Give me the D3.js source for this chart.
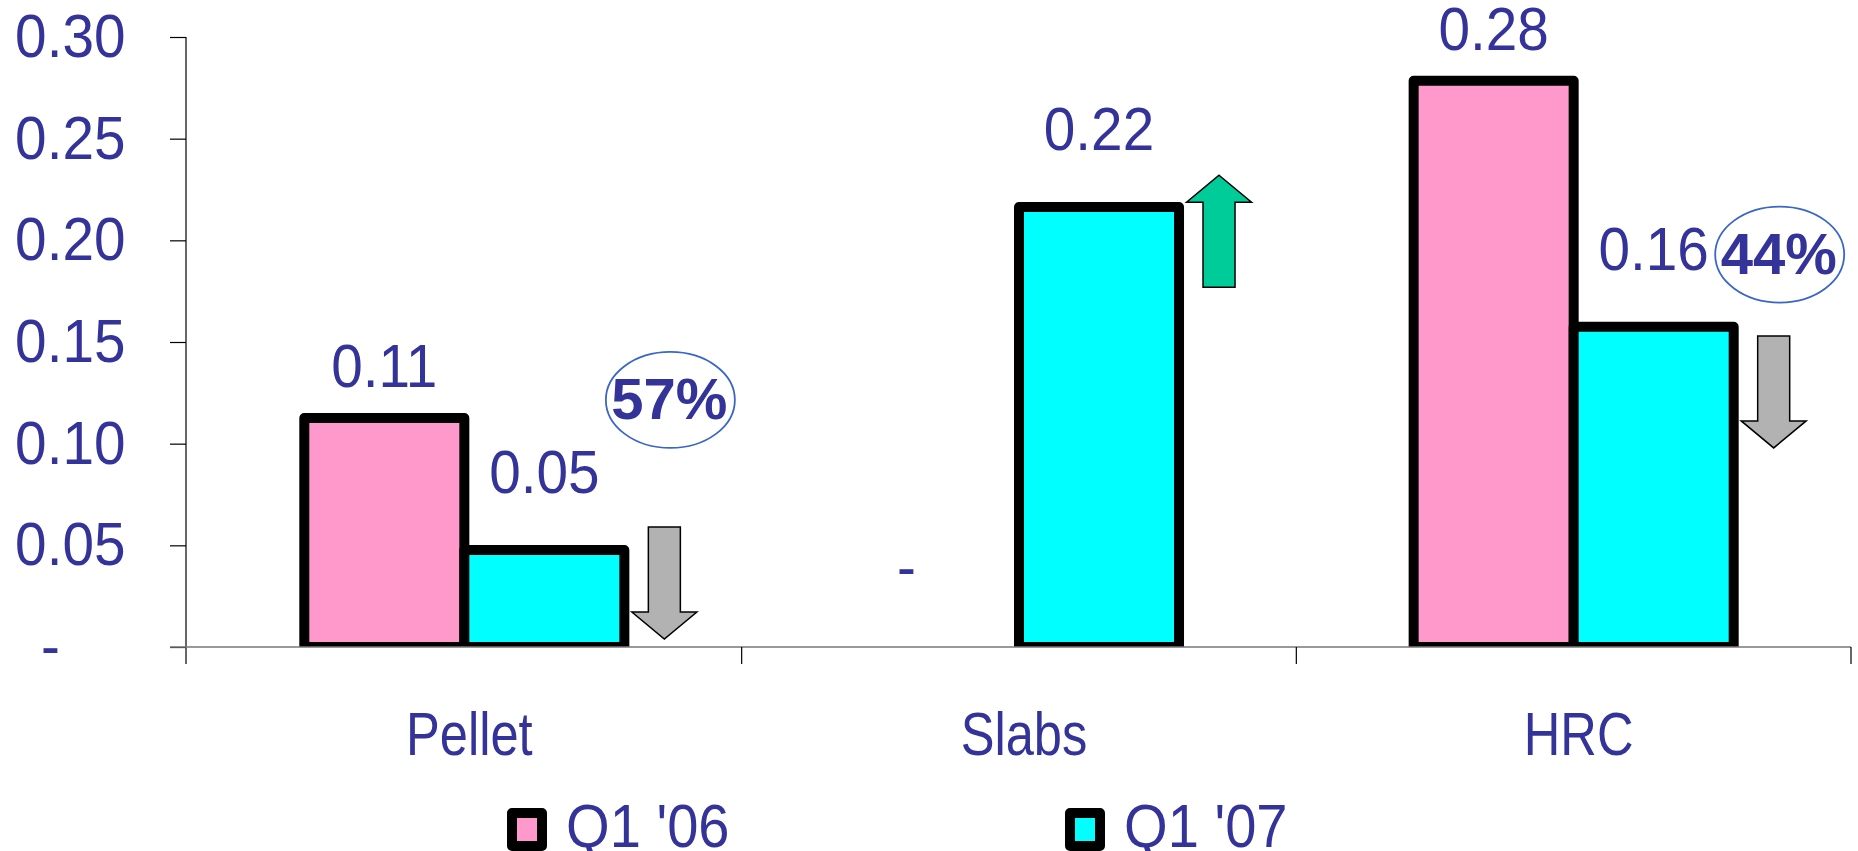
<!DOCTYPE html>
<html>
<head>
<meta charset="utf-8">
<script src="https://cdn.jsdelivr.net/npm/d3@7"></script>
<style>
  body { margin: 0; background: #fff; }
  svg { display: block; }
</style>
</head>
<body>
<svg id="chart"></svg>
<script>
// Data
const categories = ["Pellet", "Slabs", "HRC"];
const seriesNames = ["Q1 '06", "Q1 '07"];
const q106 = [0.1126, 0, 0.2785];
const q107 = [0.0477, 0.2164, 0.1575];
const yTicks = [0, 0.05, 0.1, 0.15, 0.2, 0.25, 0.3];
const changeLabels = ["57%", null, "44%"];
const changeDir = ["down", "up", "down"];
const arrowTop = [0.059, 0.232, 0.153]; // value where the arrow starts
const badgeY = [0.1215, null, 0.193]; // value at centre of the % ellipse

// Layout
const width = 1858;
const height = 851;
const x0Left = 187;
const x0Right = 1851;
const yZero = 647;
const yTop = 37;
const textColor = "#333399";
const fontSize = 61;
const colors = ["#FF99CC", "#00FFFF"];
const labelGap = [31, 57];

const svg = d3.select("#chart").attr("width", width).attr("height", height);
svg.append("rect").attr("width", width).attr("height", height).attr("fill", "#fff");

const font = "'Liberation Sans', Arial, sans-serif";

// the source text is a bit narrower than Liberation Sans
function squeeze(sel, s) {
  sel.each(function () {
    const x = +this.getAttribute("x") || 0;
    d3.select(this).attr("transform", `translate(${x * (1 - s)},0) scale(${s},1)`);
  });
}

const x = d3.scaleBand()
  .domain(categories)
  .range([x0Left, x0Right])
  .paddingInner(0.423)
  .paddingOuter(0.2115);

const xSub = d3.scaleBand()
  .domain(seriesNames)
  .range([0, x.bandwidth()]);

const y = d3.scaleLinear().domain([0, 0.3]).range([yZero, yTop]);

// Y axis
const yAxis = svg.append("g")
  .attr("transform", `translate(${x0Left - 1},0)`)
  .call(d3.axisLeft(y)
    .tickValues(yTicks)
    .tickSize(16)
    .tickPadding(44.5)
    .tickFormat(d => d === 0 ? "-" : d3.format(".2f")(d)));
yAxis.select(".domain").remove();
yAxis.selectAll(".tick line").attr("stroke", "#000").attr("stroke-width", 1.2);
yAxis.selectAll(".tick text")
  .attr("fill", textColor)
  .style("font-family", font)
  .style("font-size", fontSize + "px")
  .attr("x", d => d === 0 ? -126 : -60.5)
  .call(squeeze, 0.93);

svg.append("line")
  .attr("x1", x0Left - 1).attr("x2", x0Left - 1)
  .attr("y1", yTop).attr("y2", yZero + 17)
  .attr("stroke", "#000").attr("stroke-width", 1.2);

// Bars
svg.append("clipPath").attr("id", "plotClip")
  .append("rect").attr("x", 0).attr("y", 0).attr("width", width).attr("height", yZero);

const rows = categories.map((c, i) => ({ cat: c, i, vals: [q106[i], q107[i]] }));

const groups = svg.append("g").attr("clip-path", "url(#plotClip)")
  .selectAll("g")
  .data(rows)
  .join("g")
  .attr("transform", d => `translate(${x(d.cat)},0)`);

groups.selectAll("rect")
  .data(d => d.vals.map((v, s) => ({ v, s })).filter(e => e.v > 0))
  .join("rect")
  .attr("x", e => xSub(seriesNames[e.s]))
  .attr("y", e => y(e.v))
  .attr("width", xSub.bandwidth())
  .attr("height", e => y(0) - y(e.v))
  .attr("fill", e => colors[e.s])
  .attr("stroke", "#000")
  .attr("stroke-width", 10)
  .attr("stroke-linejoin", "round");

// X axis
svg.append("line")
  .attr("x1", x0Left - 17).attr("x2", x0Right)
  .attr("y1", yZero).attr("y2", yZero)
  .attr("stroke", "#777").attr("stroke-width", 1.5);

const step = x.step();
const boundaries = d3.range(categories.length + 1).map(k => x0Left + k * step);
svg.selectAll(".xtick")
  .data(boundaries.slice(1))
  .join("line")
  .attr("x1", d => d).attr("x2", d => d)
  .attr("y1", yZero).attr("y2", yZero + 17)
  .attr("stroke", "#000").attr("stroke-width", 1.2);

svg.selectAll(".cat")
  .data(categories)
  .join("text")
  .attr("class", "cat")
  .attr("x", d => x(d) + x.bandwidth() / 2 + 5)
  .attr("y", 755)
  .attr("text-anchor", "middle")
  .attr("fill", textColor)
  .style("font-family", font)
  .style("font-size", fontSize + "px")
  .text(d => d)
  .call(squeeze, 0.83);

// Value labels
const labels = [];
rows.forEach(r => r.vals.forEach((v, s) => labels.push({ cat: r.cat, v, s })));

svg.selectAll(".vlabel")
  .data(labels)
  .join("text")
  .attr("class", "vlabel")
  .attr("x", d => {
    const cx = x(d.cat) + xSub(seriesNames[d.s]) + xSub.bandwidth() / 2;
    return d.v === 0 ? cx - 23 : cx;
  })
  .attr("y", d => d.v === 0 ? y(0) - 59 : y(d.v) - labelGap[d.s])
  .attr("text-anchor", d => d.v === 0 ? "end" : "middle")
  .attr("fill", textColor)
  .style("font-family", font)
  .style("font-size", fontSize + "px")
  .text(d => d.v === 0 ? "-" : d3.format(".2f")(d.v))
  .call(squeeze, 0.93);

// Change arrows
function arrowPath(cx, top, dir) {
  const sw = 16, hw = 32.5, shaft = 85, head = 27;
  if (dir === "down") {
    return `M${cx - sw},${top} L${cx + sw},${top} L${cx + sw},${top + shaft} L${cx + hw},${top + shaft}
      L${cx},${top + shaft + head} L${cx - hw},${top + shaft} L${cx - sw},${top + shaft} Z`;
  }
  return `M${cx},${top} L${cx + hw},${top + head} L${cx + sw},${top + head} L${cx + sw},${top + head + shaft}
    L${cx - sw},${top + head + shaft} L${cx - sw},${top + head} L${cx - hw},${top + head} Z`;
}

const arrowX = i => x(categories[i]) + x.bandwidth() + 40;

svg.selectAll(".arrow")
  .data(categories.map((c, i) => i))
  .join("path")
  .attr("class", "arrow")
  .attr("d", i => arrowPath(arrowX(i), y(arrowTop[i]), changeDir[i]))
  .attr("fill", i => changeDir[i] === "up" ? "#00CC99" : "#B2B2B2")
  .attr("stroke", "#000")
  .attr("stroke-width", 1.5);

// Percentage badges
const badges = categories.map((c, i) => i).filter(i => changeLabels[i]);
svg.selectAll(".badge")
  .data(badges)
  .join("ellipse")
  .attr("class", "badge")
  .attr("cx", i => arrowX(i) + 6)
  .attr("cy", i => y(badgeY[i]))
  .attr("rx", 64.5)
  .attr("ry", 48)
  .attr("fill", "none")
  .attr("stroke", "#3A66C8")
  .attr("stroke-width", 1.8);

svg.selectAll(".badgeText")
  .data(badges)
  .join("text")
  .attr("class", "badgeText")
  .attr("x", i => arrowX(i) + 5)
  .attr("y", i => y(badgeY[i]) + 19)
  .attr("text-anchor", "middle")
  .attr("fill", textColor)
  .style("font-family", font)
  .style("font-size", "58px")
  .style("font-weight", "bold")
  .text(i => changeLabels[i]);

// Legend
const legendX = [512, 1070];
const legend = svg.selectAll(".legend")
  .data(seriesNames)
  .join("g")
  .attr("class", "legend")
  .attr("transform", (d, s) => `translate(${legendX[s]},0)`);

legend.append("rect")
  .attr("x", 0).attr("y", 813)
  .attr("width", 30).attr("height", 33)
  .attr("fill", (d, s) => colors[s])
  .attr("stroke", "#000")
  .attr("stroke-width", 10)
  .attr("stroke-linejoin", "round");

legend.append("text")
  .attr("x", 54)
  .attr("y", 847)
  .attr("fill", textColor)
  .style("font-family", font)
  .style("font-size", fontSize + "px")
  .text(d => d)
  .call(squeeze, 0.92);
</script>
</body>
</html>
